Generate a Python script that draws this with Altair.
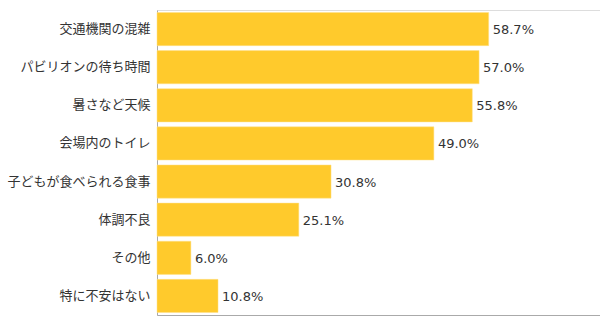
import altair as alt
import pandas as pd

categories = ["交通機関の混雑", "パビリオンの待ち時間", "暑さなど天候", "会場内のトイレ",
              "子どもが食べられる食事", "体調不良", "その他", "特に不安はない"]
values = [58.7, 57.0, 55.8, 49.0, 30.8, 25.1, 6.0, 10.8]

df = pd.DataFrame({"cat": categories, "val": values})
df["label"] = [f"{v:.1f}%" for v in values]

y = alt.Y("cat:N", sort=categories, title=None,
          scale=alt.Scale(paddingInner=0.13, paddingOuter=0.065),
          axis=alt.Axis(ticks=False, domain=True, domainColor="#aaaaaa", domainWidth=1,
                        labelFont="Noto Sans CJK JP", labelFontSize=13, labelColor="#333333",
                        labelPadding=7, labelLimit=200))
x = alt.X("val:Q", title=None, scale=alt.Scale(domain=[0, 78.4], nice=False, zero=True),
          axis=alt.Axis(ticks=False, labels=False, grid=False, domain=True,
                        domainColor="#aaaaaa", domainWidth=1))

bars = alt.Chart(df).mark_bar(color="#FFCA2C", stroke="#FFE08A", strokeWidth=0.5).encode(x=x, y=y)
text = alt.Chart(df).mark_text(align="left", baseline="middle", dx=4, dy=1,
                               font="DejaVu Sans", fontSize=13, color="#333333").encode(
    x="val:Q", y=alt.Y("cat:N", sort=categories), text="label:N")

chart = (bars + text).properties(
    width=443, height=305,
    autosize=alt.AutoSizeParams(type="none"),
    padding={"left": 157, "top": 10, "right": 0, "bottom": 7},
).configure_view(stroke=None).configure(background="white")

chart.save("out.html", embed_options={"renderer": "svg", "actions": False})
